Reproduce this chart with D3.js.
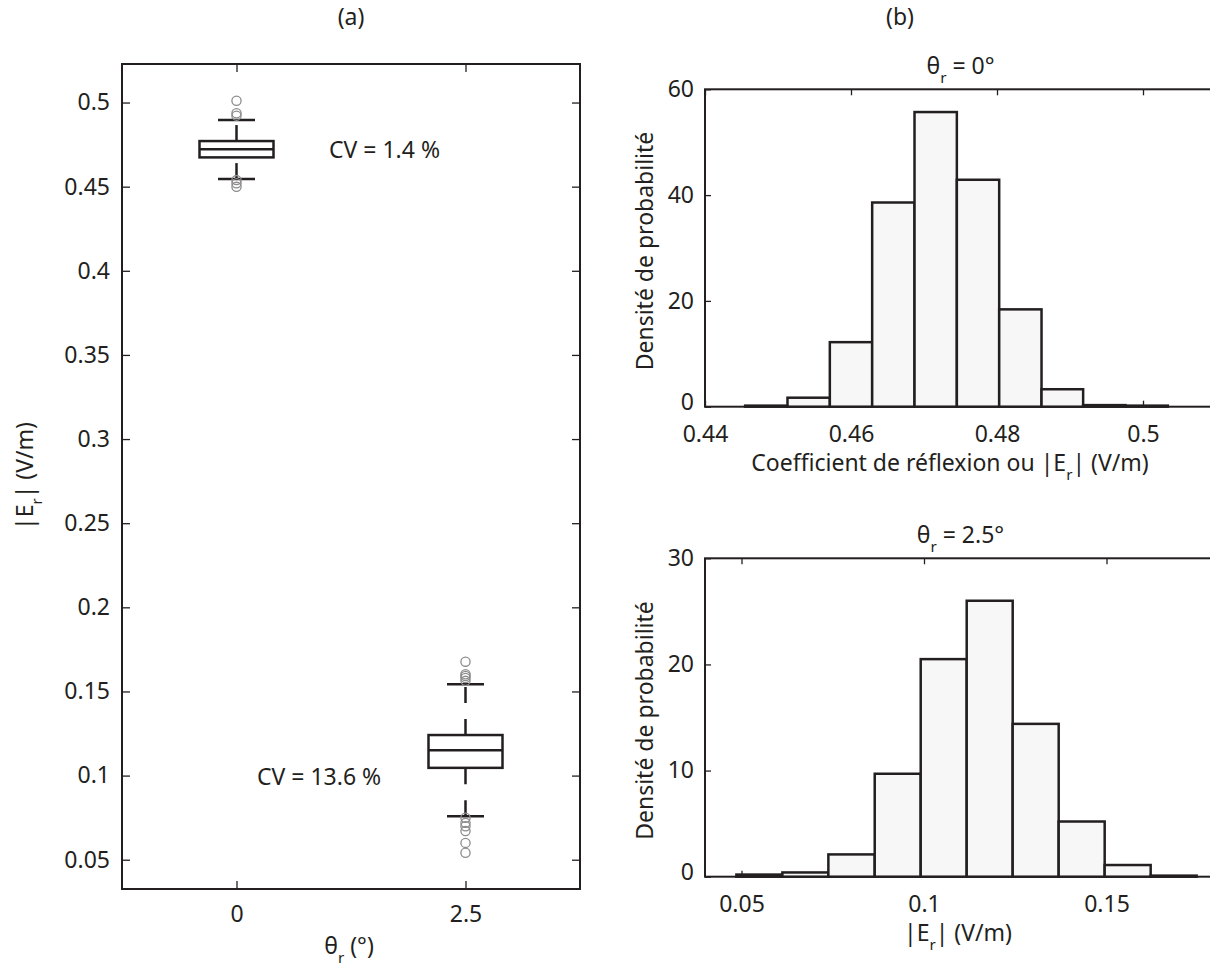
<!DOCTYPE html>
<html><head><meta charset="utf-8">
<script src="https://cdn.jsdelivr.net/npm/d3@7"></script>
<style>body{margin:0;background:#fff}svg{display:block}</style>
</head><body>
<svg id="c" width="1210" height="967"></svg>
<script>
// ---------- data ----------
const boxCategories = ["0", "2.5"];
const boxQ1 = [0.4674, 0.1046];
const boxMedian = [0.4723, 0.1150];
const boxQ3 = [0.4771, 0.1241];
const whiskerLow = [0.4545, 0.0759];
const whiskerHigh = [0.4896, 0.1543];
const outliersAt0 = [0.5011, 0.4936, 0.4922, 0.4539, 0.4520, 0.4499];
const outliersAt25 = [0.1677, 0.1602, 0.1592, 0.1580, 0.1563, 0.0749, 0.0719, 0.0699, 0.0670, 0.0600, 0.0541];
const cvLabels = ["CV = 1.4 %", "CV = 13.6 %"];
const boxYTicks = [0.05, 0.1, 0.15, 0.2, 0.25, 0.3, 0.35, 0.4, 0.45, 0.5];

const hist0Edges = [0.4455, 0.4513, 0.4571, 0.4629, 0.4687, 0.4745, 0.4803, 0.4861, 0.4918, 0.4976, 0.5034];
const hist0Density = [0.2, 1.7, 12.2, 38.6, 55.7, 42.9, 18.4, 3.3, 0.3, 0.2];
const hist0XTicks = [0.44, 0.46, 0.48, 0.5];
const hist0YTicks = [0, 20, 40, 60];

const hist25Edges = [0.0486, 0.0612, 0.0738, 0.0865, 0.0991, 0.1117, 0.1243, 0.1369, 0.1495, 0.1621, 0.1747];
const hist25Density = [0.2, 0.4, 2.1, 9.7, 20.5, 26.0, 14.4, 5.2, 1.1, 0.1];
const hist25XTicks = [0.05, 0.1, 0.15];
const hist25YTicks = [0, 10, 20, 30];

// ---------- style ----------
const FONT = "'Noto Sans', sans-serif";
const FS = 23;
const INK = "#231f20";
const svg = d3.select("#c").style("font-family", FONT);

function richText(g, x, y, parts, opts = {}) {
  const fs = opts.fs || FS;
  const t = g.append("text").attr("x", x).attr("y", y)
    .attr("text-anchor", opts.anchor || "middle")
    .attr("font-size", fs).attr("fill", INK);
  let shift = 0;
  parts.forEach(p => {
    const ts = t.append("tspan").text(p.t);
    if (p.sub) { const s = fs * 0.38; ts.attr("font-size", fs * 0.66).attr("dy", s); shift = s; }
    else if (shift) { ts.attr("dy", -shift); shift = 0; }
  });
  if (opts.rotate) t.attr("transform", `rotate(${opts.rotate},${x},${y})`);
  return t;
}

function styleAxis(g) {
  g.select(".domain").remove();
  g.selectAll(".tick line").attr("stroke", INK).attr("stroke-width", 1.3);
  g.selectAll(".tick text").attr("fill", INK).attr("font-size", FS).attr("font-family", FONT);
}

// ---------- (a) box plot ----------
const A = { l: 122, r: 580, t: 64, b: 889 };
const xA = d3.scaleLinear().domain([0.5, 2.5]).range([A.l, A.r]);
const yA = d3.scaleLinear().domain([0.0326, 0.5229]).range([A.b, A.t]);
const gA = svg.append("g");

gA.append("g").attr("transform", `translate(${A.l},0)`)
  .call(d3.axisLeft(yA).tickValues(boxYTicks).tickFormat(d3.format("")).tickSizeInner(-8).tickSizeOuter(0).tickPadding(12))
  .call(styleAxis);
gA.append("g").attr("transform", `translate(${A.r},0)`)
  .call(d3.axisRight(yA).tickValues(boxYTicks).tickFormat("").tickSizeInner(-8).tickSizeOuter(0))
  .call(styleAxis);
gA.append("g").attr("transform", `translate(0,${A.b})`)
  .call(d3.axisBottom(xA).tickValues([1, 2]).tickFormat((d, i) => boxCategories[i]).tickSizeInner(-8).tickSizeOuter(0).tickPadding(17))
  .call(styleAxis);
gA.append("g").attr("transform", `translate(0,${A.t})`)
  .call(d3.axisTop(xA).tickValues([1, 2]).tickFormat("").tickSizeInner(-8).tickSizeOuter(0))
  .call(styleAxis);
gA.append("rect").attr("x", A.l).attr("y", A.t).attr("width", A.r - A.l).attr("height", A.b - A.t)
  .attr("fill", "none").attr("stroke", INK).attr("stroke-width", 2);

const boxHalf = 37, capHalf = 18.5;
boxCategories.forEach((c, i) => {
  const cx = xA(i + 1);
  const g = gA.append("g");
  g.append("line").attr("x1", cx).attr("x2", cx).attr("y1", yA(boxQ3[i])).attr("y2", yA(whiskerHigh[i]))
    .attr("stroke", INK).attr("stroke-width", 2.5).attr("stroke-dasharray", "16,16");
  g.append("line").attr("x1", cx).attr("x2", cx).attr("y1", yA(whiskerLow[i])).attr("y2", yA(boxQ1[i]))
    .attr("stroke", INK).attr("stroke-width", 2.5).attr("stroke-dasharray", "16,16");
  [whiskerHigh[i], whiskerLow[i]].forEach(v => {
    g.append("line").attr("x1", cx - capHalf).attr("x2", cx + capHalf).attr("y1", yA(v)).attr("y2", yA(v))
      .attr("stroke", INK).attr("stroke-width", 2.5);
  });
  g.append("rect").attr("x", cx - boxHalf).attr("width", 2 * boxHalf)
    .attr("y", yA(boxQ3[i])).attr("height", yA(boxQ1[i]) - yA(boxQ3[i]))
    .attr("fill", "none").attr("stroke", INK).attr("stroke-width", 2.5);
  g.append("line").attr("x1", cx - boxHalf).attr("x2", cx + boxHalf).attr("y1", yA(boxMedian[i])).attr("y2", yA(boxMedian[i]))
    .attr("stroke", INK).attr("stroke-width", 2.5);
  const outs = i === 0 ? outliersAt0 : outliersAt25;
  g.selectAll("circle.o").data(outs).join("circle").attr("class", "o")
    .attr("cx", cx).attr("cy", d => yA(d)).attr("r", 4.6)
    .attr("fill", "none").attr("stroke", "#8c8c8c").attr("stroke-width", 1.3);
});

// CV annotations
richText(gA, xA(1.404), yA(0.467), [{ t: cvLabels[0] }], { anchor: "start" });
richText(gA, xA(1.0895), yA(0.0944), [{ t: cvLabels[1] }], { anchor: "start" });

// labels
richText(gA, (A.l + A.r) / 2, 25, [{ t: "(a)" }]);
richText(gA, 349, 954, [{ t: "θ" }, { t: "r", sub: true }, { t: " (°)" }]);
richText(gA, 33, 476, [{ t: "|E" }, { t: "r", sub: true }, { t: "| (V/m)" }], { rotate: -90 });

// ---------- (b) histograms ----------
function histogram(cfg) {
  const x = d3.scaleLinear().domain(cfg.xDomain).range([cfg.l, cfg.r]);
  const y = d3.scaleLinear().domain(cfg.yDomain).range([cfg.b, cfg.t]);
  const g = svg.append("g");
  g.append("g").attr("transform", `translate(${cfg.l},0)`)
    .call(d3.axisLeft(y).tickValues(cfg.yTicks).tickFormat(d3.format("")).tickSizeInner(-6).tickSizeOuter(0).tickPadding(11))
    .call(styleAxis)
    .call(ax => ax.selectAll(".tick text").attr("dy", d => d === 0 ? "0.1em" : "0.32em"));
  g.append("g").attr("transform", `translate(0,${cfg.b})`)
    .call(d3.axisBottom(x).tickValues(cfg.xTicks).tickFormat(d3.format("")).tickSizeInner(-6).tickSizeOuter(0).tickPadding(19))
    .call(styleAxis);
  g.append("g").attr("transform", `translate(0,${cfg.t})`)
    .call(d3.axisTop(x).tickValues(cfg.xTicks).tickFormat("").tickSizeInner(-6).tickSizeOuter(0))
    .call(styleAxis);
  g.append("rect").attr("x", cfg.l).attr("y", cfg.t).attr("width", cfg.r - cfg.l).attr("height", cfg.b - cfg.t)
    .attr("fill", "none").attr("stroke", INK).attr("stroke-width", 2);
  g.selectAll("rect.bar").data(cfg.density).join("rect").attr("class", "bar")
    .attr("x", (d, i) => x(cfg.edges[i]))
    .attr("width", (d, i) => x(cfg.edges[i + 1]) - x(cfg.edges[i]))
    .attr("y", d => y(d)).attr("height", d => y(0) - y(d))
    .attr("fill", "#f7f7f7").attr("stroke", INK).attr("stroke-width", 2.5);
  const mid = (cfg.l + cfg.r) / 2;
  richText(g, mid, cfg.titleY, cfg.title);
  richText(g, cfg.xLabelX, cfg.xLabelY, cfg.xLabel);
  richText(g, 653, (cfg.t + cfg.b) / 2 + 3, [{ t: "Densité de probabilité" }], { rotate: -90 });
}

histogram({
  l: 705, r: 1216, t: 89.3, b: 406.7,
  xDomain: [0.44, 0.51], yDomain: [0, 60],
  xTicks: hist0XTicks, yTicks: hist0YTicks,
  edges: hist0Edges, density: hist0Density,
  title: [{ t: "θ" }, { t: "r", sub: true }, { t: " = 0°" }], titleY: 74,
  xLabel: [{ t: "Coefficient de réflexion ou |E" }, { t: "r", sub: true }, { t: "| (V/m)" }], xLabelX: 950, xLabelY: 471
});
histogram({
  l: 705, r: 1216, t: 558.3, b: 876.7,
  xDomain: [0.04, 0.18], yDomain: [0, 30],
  xTicks: hist25XTicks, yTicks: hist25YTicks,
  edges: hist25Edges, density: hist25Density,
  title: [{ t: "θ" }, { t: "r", sub: true }, { t: " = 2.5°" }], titleY: 543,
  xLabel: [{ t: "|E" }, { t: "r", sub: true }, { t: "| (V/m)" }], xLabelX: 958, xLabelY: 941
});
richText(svg, 900, 25, [{ t: "(b)" }]);
</script>
</body></html>
